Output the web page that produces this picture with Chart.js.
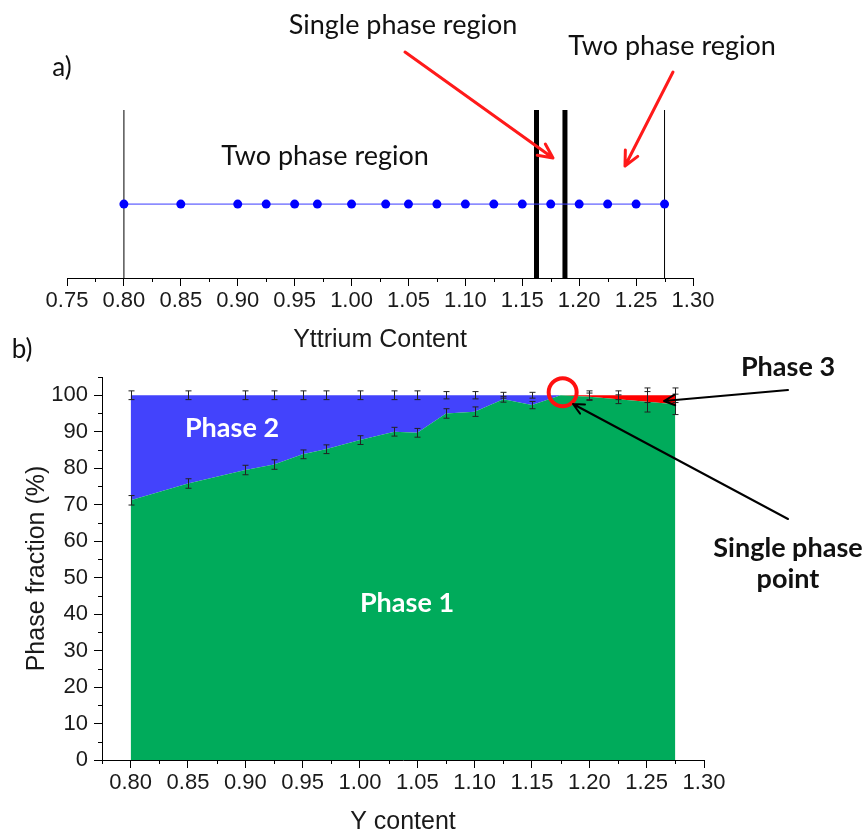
<!DOCTYPE html>
<html>
<head>
<meta charset="utf-8">
<script src="https://cdn.jsdelivr.net/npm/chart.js@4.4.0/dist/chart.umd.min.js"></script>
<style>
  html, body { margin: 0; padding: 0; background: #fff; }
  #wrap { position: relative; width: 868px; height: 837px; }
  canvas { position: absolute; left: 0; }
  #topChart { top: 0; }
  #botChart { top: 355px; }
  #notes { top: 0; pointer-events: none; }
</style>
</head>
<body>
<div id="wrap">
  <canvas id="topChart" width="868" height="355"></canvas>
  <canvas id="botChart" width="868" height="482"></canvas>
  <canvas id="notes" width="868" height="837"></canvas>
</div>
<script>
// sample compositions (Y content)
const yContent = [0.80, 0.85, 0.90, 0.925, 0.95, 0.97, 1.00, 1.03, 1.05, 1.075, 1.10, 1.125, 1.15, 1.175, 1.20, 1.225, 1.25, 1.275];

// phase fractions in %, read off panel b)
const phase1 = [71.2, 75.8, 79.5, 81.0, 83.8, 85.2, 87.7, 90.0, 89.7, 95.0, 95.5, 98.9, 97.3, 100, 99.6, 98.9, 98.2, 97.5];
const phase2 = [28.8, 24.2, 20.5, 19.0, 16.2, 14.8, 12.3, 10.0, 10.3, 5.0, 4.5, 1.1, 2.7, 0, 0, 0, 0, 0];
const phase3 = [0, 0, 0, 0, 0, 0, 0, 0, 0, 0, 0, 0, 0, 0, 0.4, 1.1, 1.8, 2.5];

// error bars (+/-) on the phase 1 boundary and on the total
const errPhase1 = [1.3, 1.3, 1.3, 1.3, 1.2, 1.2, 1.2, 1.2, 1.2, 1.3, 1.3, 0.8, 1.0, 0, 1.0, 1.2, 2.8, 2.8];
const errTotal  = [1.2, 1.2, 1.2, 1.2, 1.2, 1.2, 1.2, 1.2, 1.2, 1.0, 1.0, 0.8, 0.8, 0, 1.2, 1.2, 2.0, 2.0];

// vertical markers in panel a)
const rangeEnds = [0.80, 1.275];
const singlePhaseBounds = [1.1625, 1.1875];

const tickFont = { family: "'Liberation Sans', Arial, sans-serif", size: 22 };
const titleFont = { family: "'Liberation Sans', Arial, sans-serif", size: 25 };
const noteFont = "Lato, Calibri, sans-serif";

const isMajorX = v => Math.round(v * 1000) % 50 === 0;
const isMajorY = v => Math.round(v) % 10 === 0 && v <= 100;

// short minor tick marks (the library draws the long labelled ones)
const minorTicks = {
  id: 'minorTicks',
  afterDraw(chart) {
    const ctx = chart.ctx;
    ctx.save();
    ctx.strokeStyle = '#000';
    ctx.lineWidth = 1;
    ['x', 'y'].forEach(id => {
      const s = chart.scales[id];
      if (!s || !s.options.display) return;
      s.ticks.forEach(t => {
        if (t.label !== '') return;
        const p = Math.round(s.getPixelForValue(t.value)) + 0.5;
        ctx.beginPath();
        if (id === 'x') {
          ctx.moveTo(p, s.top);
          ctx.lineTo(p, s.top + 4);
        } else {
          ctx.moveTo(s.right, p);
          ctx.lineTo(s.right - 4, p);
        }
        ctx.stroke();
      });
    });
    ctx.restore();
  }
};

const errorBars = {
  id: 'errorBars',
  afterDatasetsDraw(chart) {
    const { ctx, scales: { x, y } } = chart;
    ctx.save();
    ctx.strokeStyle = '#222';
    ctx.lineWidth = 1;
    yContent.forEach((v, i) => {
      const px = Math.round(x.getPixelForValue(v)) + 0.5;
      const total = phase1[i] + phase2[i] + phase3[i];
      [[phase1[i], errPhase1[i]], [total, errTotal[i]]].forEach(([val, e]) => {
        if (!e) return;
        const y1 = y.getPixelForValue(val - e);
        const y2 = y.getPixelForValue(val + e);
        ctx.beginPath();
        ctx.moveTo(px, y1); ctx.lineTo(px, y2);
        ctx.moveTo(px - 3, y1); ctx.lineTo(px + 3, y1);
        ctx.moveTo(px - 3, y2); ctx.lineTo(px + 3, y2);
        ctx.stroke();
      });
    });
    ctx.restore();
  }
};

function xAxis(min, max, title) {
  return {
    type: 'linear', min: min, max: max,
    border: { display: true, color: '#000', width: 1 },
    grid: {
      drawOnChartArea: false, drawTicks: true, tickLength: 8,
      tickColor: c => (c.tick && isMajorX(c.tick.value)) ? '#000' : 'rgba(0,0,0,0)'
    },
    ticks: {
      stepSize: 0.025, autoSkip: false, maxRotation: 0, minRotation: 0, padding: 2,
      color: '#1a1a1a', font: tickFont,
      callback: v => isMajorX(v) ? v.toFixed(2) : ''
    },
    title: { display: true, text: title, color: '#1a1a1a', font: titleFont, padding: { top: 0, bottom: 0 } }
  };
}

// ---- panel a)
const topDatasets = [{
  data: yContent.map(x => ({ x: x, y: 0.44 })),
  borderColor: '#3a3aff', borderWidth: 1,
  pointRadius: 4.5, pointBackgroundColor: '#0000ff', pointBorderWidth: 0
}];
rangeEnds.forEach(x => topDatasets.push({
  data: [{ x: x, y: 0 }, { x: x, y: 1 }], borderColor: '#000', borderWidth: 1, pointRadius: 0
}));
singlePhaseBounds.forEach(x => topDatasets.push({
  data: [{ x: x, y: 0 }, { x: x, y: 1 }], borderColor: '#000', borderWidth: 5, pointRadius: 0
}));

const topX = xAxis(0.75, 1.30, 'Yttrium Content');
topX.afterFit = s => { s.height = 77; };

new Chart(document.getElementById('topChart'), {
  type: 'line',
  data: { datasets: topDatasets },
  options: {
    responsive: false, animation: false,
    layout: { padding: { left: 67, right: 175, top: 110, bottom: 0 } },
    plugins: { legend: { display: false }, tooltip: { enabled: false } },
    scales: {
      x: topX,
      y: { display: false, min: 0, max: 1 }
    }
  },
  plugins: [minorTicks]
});

// ---- panel b)
const xy = arr => arr.map((v, i) => ({ x: yContent[i], y: v }));
const botX = xAxis(0.775, 1.30, 'Y content');
botX.afterFit = s => { s.height = 77; };

const bot = new Chart(document.getElementById('botChart'), {
  type: 'line',
  data: {
    datasets: [
      { label: 'Phase 1', data: xy(phase1), fill: 'origin', backgroundColor: '#00ab5b', borderWidth: 0, borderColor: 'rgba(0,0,0,0)', pointRadius: 0 },
      { label: 'Phase 2', data: xy(phase2), fill: '-1', backgroundColor: '#4343fc', borderWidth: 0, borderColor: 'rgba(0,0,0,0)', pointRadius: 0 },
      { label: 'Phase 3', data: xy(phase3), fill: '-1', backgroundColor: '#ff0000', borderWidth: 0, borderColor: 'rgba(0,0,0,0)', pointRadius: 0 }
    ]
  },
  options: {
    responsive: false, animation: false,
    layout: { padding: { left: 0, right: 164, top: 22, bottom: 0 } },
    plugins: { legend: { display: false }, tooltip: { enabled: false } },
    scales: {
      x: botX,
      y: {
        stacked: true, min: 0, max: 105,
        afterFit: s => { s.width = 102; },
        border: { display: true, color: '#000', width: 1 },
        grid: {
          drawOnChartArea: false, drawTicks: true, tickLength: 8,
          tickColor: c => (c.tick && isMajorY(c.tick.value)) ? '#000' : 'rgba(0,0,0,0)'
        },
        ticks: {
          stepSize: 5, autoSkip: false, padding: 6, color: '#1a1a1a', font: tickFont,
          callback: v => isMajorY(v) ? String(v) : ''
        },
        title: { display: true, text: 'Phase fraction (%)', color: '#1a1a1a', font: titleFont, padding: { top: 22, bottom: 0 } }
      }
    }
  },
  plugins: [errorBars, minorTicks]
});

// ---- annotations
const nc = document.getElementById('notes').getContext('2d');

function text(str, cx, cy, size, opts) {
  opts = opts || {};
  nc.save();
  nc.font = (opts.bold ? 'bold ' : '') + size + 'px ' + noteFont;
  nc.fillStyle = opts.color || '#111';
  nc.textAlign = 'center';
  nc.textBaseline = 'middle';
  nc.fillText(str, cx, cy);
  nc.restore();
}

function arrow(x1, y1, x2, y2, color, width, head) {
  const a = Math.atan2(y2 - y1, x2 - x1);
  nc.save();
  nc.strokeStyle = color;
  nc.lineWidth = width;
  nc.lineCap = 'round';
  nc.lineJoin = 'round';
  nc.beginPath();
  nc.moveTo(x1, y1); nc.lineTo(x2, y2);
  nc.moveTo(x2 - head * Math.cos(a - 0.45), y2 - head * Math.sin(a - 0.45));
  nc.lineTo(x2, y2);
  nc.lineTo(x2 - head * Math.cos(a + 0.45), y2 - head * Math.sin(a + 0.45));
  nc.stroke();
  nc.restore();
}

text('a)', 62, 68, 26);
text('Single phase region', 403, 25, 27);
text('Two phase region', 672, 46, 27);
text('Two phase region', 325, 156, 27);
arrow(405, 52, 553, 158, '#ff1a1a', 3, 16);
arrow(673, 72, 625, 166, '#ff1a1a', 3, 16);

text('b)', 22, 350, 26);
text('Phase 2', 232, 428, 27, { bold: true, color: '#fff' });
text('Phase 1', 407, 603, 27, { bold: true, color: '#fff' });
text('Phase 3', 788, 367, 27, { bold: true });
text('Single phase', 788, 548, 27, { bold: true });
text('point', 788, 579, 27, { bold: true });

// circle around the single phase point
const cx = bot.scales.x.getPixelForValue(1.175);
const cy = bot.scales.y.getPixelForValue(100) + 355;
nc.save();
nc.strokeStyle = '#ff1010';
nc.lineWidth = 4;
nc.beginPath();
nc.arc(cx + 2, cy - 3, 14, 0, Math.PI * 2);
nc.stroke();
nc.restore();

arrow(788, 390, 664, 401, '#000', 2, 12);
arrow(788, 519, 573, 404, '#000', 2, 12);
</script>
</body>
</html>
